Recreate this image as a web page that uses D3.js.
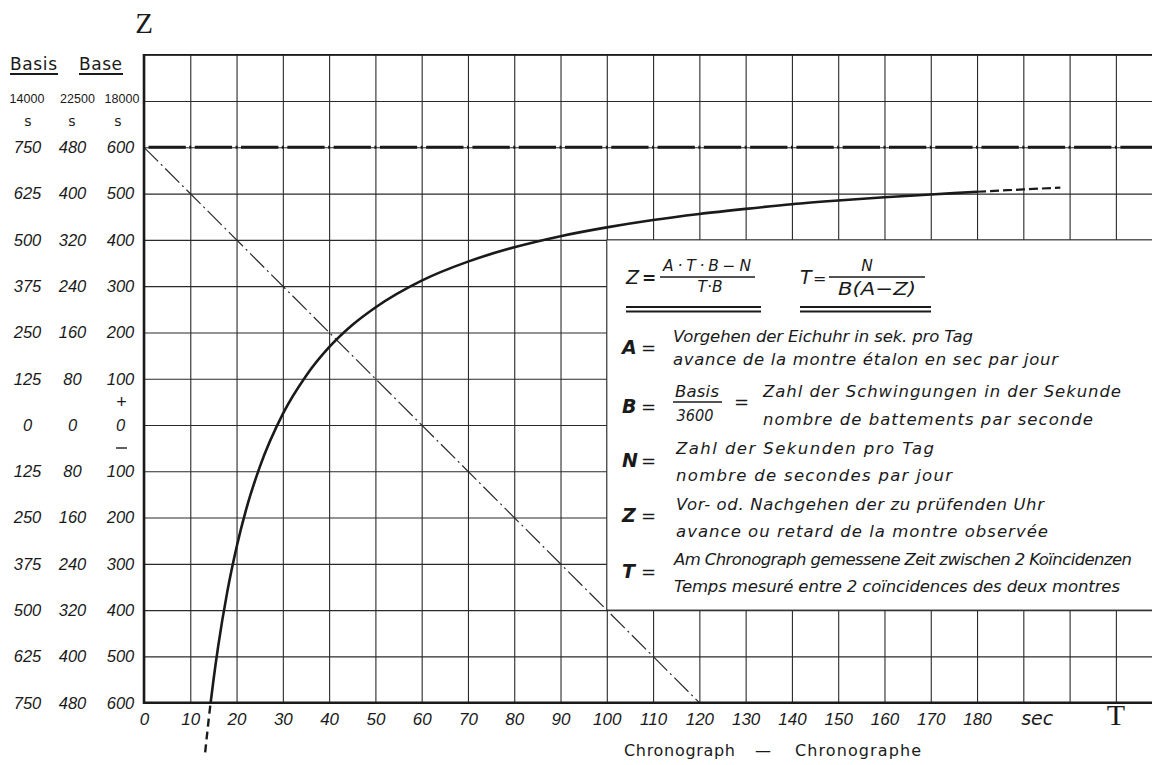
<!DOCTYPE html>
<html>
<head>
<meta charset="utf-8">
<script src="https://cdn.jsdelivr.net/npm/d3@7"></script>
<style>
html, body { margin: 0; padding: 0; background: #fff; }
svg { display: block; }
</style>
</head>
<body>
<svg id="chart" width="1152" height="765"></svg>
<script>
// ---------------- data ----------------
const timeTickValues = [0, 10, 20, 30, 40, 50, 60, 70, 80, 90, 100, 110, 120, 130, 140, 150, 160, 170, 180];
const timeTickLabels = ["0", "10", "20", "30", "40", "50", "60", "70", "80", "90", "100", "110", "120", "130", "140", "150", "160", "170", "180"];
const zTickValues = [600, 500, 400, 300, 200, 100, 0, -100, -200, -300, -400, -500, -600];
const labelsBasis14000 = ["750", "625", "500", "375", "250", "125", "0", "125", "250", "375", "500", "625", "750"];
const labelsBasis22500 = ["480", "400", "320", "240", "160", "80", "0", "80", "160", "240", "320", "400", "480"];
const labelsBase18000 = ["600", "500", "400", "300", "200", "100", "0", "100", "200", "300", "400", "500", "600"];
const basisHeaders = ["14000", "22500", "18000"];

// main curve Z(T)
const curveT = [14.4, 15, 16, 18, 20, 22, 25, 30, 35, 40, 45, 50, 60, 70, 80, 90, 100, 110, 120, 130, 140, 150, 160, 170, 180];
const curveZ = [-600, -552, -480, -360, -264, -185, -91, 24, 106, 168, 216, 254, 312, 353, 384, 408, 427, 443, 456, 467, 477, 485, 492, 498, 504];
// dashed continuation beyond 180 s
const upperExtT = [180, 190, 198];
const upperExtZ = [504, 509, 513];
// dashed continuation below the chart frame
const lowerExtT = [14.4, 14.0, 13.6, 13.2];
const lowerExtZ = [-600, -634, -671, -709];
// thin dash-dot diagonal
const diagonalT = [0, 120];
const diagonalZ = [600, -600];
// thick dash-dot asymptote
const asymptoteZ = 600;

// grid extents
const gridTMax = 210, gridZMin = -600, gridZMax = 800;

// ---------------- layout ----------------
const W = 1152, H = 765;
const svg = d3.select("#chart");
const x = d3.scaleLinear().domain([0, 100]).range([144, 144 + 462.8]);
const y = d3.scaleLinear().domain([-600, 600]).range([702.7, 147.3]);
const xRight = W + 2;

const ink = "#1a1a1a";
const sansIt = "'DejaVu Sans', sans-serif";
const numIt = "'Liberation Sans', Arial, sans-serif";

// ---------- grid via axes ----------
const vGrid = svg.append("g")
  .attr("transform", `translate(0,${y(gridZMin)})`)
  .call(d3.axisBottom(x).tickValues(d3.range(0, gridTMax + 1, 10)).tickSize(-(y(gridZMin) - y(gridZMax))).tickFormat(""));
vGrid.select(".domain").remove();
vGrid.selectAll("line").attr("stroke", "#2a2a2a").attr("stroke-width", 1.1);

const hGrid = svg.append("g")
  .attr("transform", `translate(${x(0)},0)`)
  .call(d3.axisLeft(y).tickValues(d3.range(gridZMin, gridZMax + 1, 100)).tickSize(-(xRight - x(0))).tickFormat(""));
hGrid.select(".domain").remove();
hGrid.selectAll("line").attr("stroke", "#2a2a2a").attr("stroke-width", 1.1);

// top border
svg.append("line").attr("x1", x(0)).attr("x2", xRight).attr("y1", y(gridZMax)).attr("y2", y(gridZMax))
  .attr("stroke", ink).attr("stroke-width", 1.6);

// ---------- formula box ----------
svg.append("rect")
  .attr("x", x(100)).attr("y", y(400))
  .attr("width", xRight - x(100)).attr("height", y(-400) - y(400))
  .attr("fill", "#fff").attr("stroke", "#2a2a2a").attr("stroke-width", 1.1);

// ---------- diagonal ----------
const line = d3.line().x(d => x(d[0])).y(d => y(d[1]));
svg.append("path")
  .datum(diagonalT.map((t, i) => [t, diagonalZ[i]]))
  .attr("d", line)
  .attr("fill", "none").attr("stroke", "#2a2a2a").attr("stroke-width", 1.2)
  .attr("stroke-dasharray", "20,4,2,4");

// ---------- asymptote (thick dash-dot, dots on the grid lines) ----------
const period = x(10) - x(0);
svg.append("line")
  .attr("x1", x(0)).attr("x2", xRight).attr("y1", y(asymptoteZ)).attr("y2", y(asymptoteZ))
  .attr("stroke", ink).attr("stroke-width", 3)
  .attr("stroke-dasharray", `${period - 9},3.5,2,3.5`)
  .attr("stroke-dashoffset", -4.5);

// ---------- curve ----------
const curveLine = d3.line().x(d => x(d[0])).y(d => y(d[1])).curve(d3.curveMonotoneX);
svg.append("path")
  .datum(curveT.map((t, i) => [t, curveZ[i]]))
  .attr("d", curveLine)
  .attr("fill", "none").attr("stroke", ink).attr("stroke-width", 2.6);
svg.append("path")
  .datum(upperExtT.map((t, i) => [t, upperExtZ[i]]))
  .attr("d", curveLine)
  .attr("fill", "none").attr("stroke", ink).attr("stroke-width", 2.2)
  .attr("stroke-dasharray", "9,4");
svg.append("path")
  .datum(lowerExtT.map((t, i) => [t, lowerExtZ[i]]))
  .attr("d", d3.line().x(d => x(d[0])).y(d => y(d[1])).curve(d3.curveMonotoneY))
  .attr("fill", "none").attr("stroke", ink).attr("stroke-width", 2.4)
  .attr("stroke-dasharray", "8,5").attr("stroke-dashoffset", -3);

// ---------- thick axes ----------
svg.append("line").attr("x1", x(0)).attr("x2", x(0)).attr("y1", y(gridZMax) - 0.8).attr("y2", y(gridZMin) + 1)
  .attr("stroke", ink).attr("stroke-width", 2.6);
svg.append("line").attr("x1", x(0) - 1).attr("x2", xRight).attr("y1", y(gridZMin)).attr("y2", y(gridZMin))
  .attr("stroke", ink).attr("stroke-width", 2.6);

// ---------- bottom tick labels ----------
const xAxis = svg.append("g")
  .attr("transform", `translate(0,${y(gridZMin)})`)
  .call(d3.axisBottom(x).tickValues(timeTickValues).tickSize(0).tickPadding(10)
    .tickFormat((d, i) => timeTickLabels[i]));
xAxis.select(".domain").remove();
xAxis.selectAll("text")
  .attr("font-family", numIt).attr("font-style", "italic").attr("font-size", 17)
  .attr("fill", ink);

svg.append("text").attr("x", x(193)).attr("y", 725).attr("text-anchor", "middle")
  .attr("font-family", sansIt).attr("font-style", "italic").attr("font-size", 19).attr("fill", ink).text("sec");
svg.append("text").attr("x", x(210)).attr("y", 725).attr("text-anchor", "middle")
  .attr("font-family", "'Liberation Serif', serif").attr("font-size", 30).attr("fill", ink).text("T");
svg.append("text").attr("x", x(0)).attr("y", 33).attr("text-anchor", "middle")
  .attr("font-family", "'Liberation Serif', serif").attr("font-size", 29).attr("fill", ink).text("Z");

// Chronograph caption
const cap = svg.append("g").attr("font-family", "'DejaVu Sans', sans-serif").attr("font-size", 16).attr("fill", ink);
cap.append("text").attr("x", 624).attr("y", 756).attr("textLength", 111).attr("lengthAdjust", "spacing").text("Chronograph");
cap.append("text").attr("x", 763).attr("y", 756).attr("text-anchor", "middle").text("—");
cap.append("text").attr("x", 795).attr("y", 756).attr("textLength", 126).attr("lengthAdjust", "spacing").text("Chronographe");

// ---------- left label columns ----------
const colX = [27.5, 72.5, 120.5];
const cols = [labelsBasis14000, labelsBasis22500, labelsBase18000];
cols.forEach((labels, c) => {
  svg.append("g").selectAll("text").data(zTickValues).join("text")
    .attr("x", colX[c]).attr("y", d => y(d) + 5.8)
    .attr("text-anchor", "middle")
    .attr("font-family", numIt).attr("font-style", "italic").attr("font-size", 16.5).attr("fill", ink)
    .text((d, i) => labels[i]);
});
svg.append("text").attr("x", 121.5).attr("y", 408).attr("text-anchor", "middle")
  .attr("font-family", numIt).attr("font-size", 18).attr("fill", ink).text("+");
svg.append("line").attr("x1", 116).attr("x2", 127).attr("y1", 448).attr("y2", 448).attr("stroke", ink).attr("stroke-width", 1.4);

const headX = [27, 77.5, 122];
basisHeaders.forEach((h, i) => {
  svg.append("text").attr("x", headX[i]).attr("y", 103).attr("text-anchor", "middle")
    .attr("font-family", numIt).attr("font-size", 12.5).attr("fill", ink).text(h);
  svg.append("text").attr("x", [28, 72, 118][i]).attr("y", 126).attr("text-anchor", "middle")
    .attr("font-family", "'DejaVu Sans', sans-serif").attr("font-size", 14).attr("fill", ink).text("s");
});
const head = svg.append("g").attr("font-family", "'DejaVu Sans', sans-serif").attr("font-size", 17).attr("fill", ink);
head.append("text").attr("x", 10).attr("y", 70).attr("textLength", 47).attr("lengthAdjust", "spacing").text("Basis");
head.append("text").attr("x", 79).attr("y", 70).attr("textLength", 43).attr("lengthAdjust", "spacing").text("Base");
svg.append("line").attr("x1", 10).attr("x2", 58).attr("y1", 74).attr("y2", 74).attr("stroke", ink).attr("stroke-width", 2);
svg.append("line").attr("x1", 79).attr("x2", 123).attr("y1", 74).attr("y2", 74).attr("stroke", ink).attr("stroke-width", 2);

// ---------- formula box contents ----------
const box = svg.append("g").attr("font-family", sansIt).attr("font-style", "italic").attr("fill", ink);
function t(xp, yp, str, size, opts = {}) {
  const el = box.append("text").attr("x", xp).attr("y", yp).attr("font-size", size).text(str);
  if (opts.len) el.attr("textLength", opts.len).attr("lengthAdjust", opts.adj || "spacing");
  if (opts.anchor) el.attr("text-anchor", opts.anchor);
  if (opts.weight) el.attr("font-weight", opts.weight);
  return el;
}
function hl(x1, x2, yy, w) {
  box.append("line").attr("x1", x1).attr("x2", x2).attr("y1", yy).attr("y2", yy).attr("stroke", ink).attr("stroke-width", w);
}
// Z = (A·T·B − N)/(T·B)
t(626, 284, "Z", 19);
t(642, 284, "=", 17, { weight: "bold" });
t(707, 271, "A·T·B−N", 15.5, { anchor: "middle", len: 88 });
hl(660, 755, 277, 1.6);
t(710, 292, "T·B", 15.5, { anchor: "middle" });
hl(626, 761, 307, 1.8);
hl(626, 761, 311.5, 1.8);
// T = N/(B(A−Z))
t(800, 284, "T", 19);
t(813, 284, "=", 16);
t(867, 271, "N", 15.5, { anchor: "middle" });
hl(829, 925, 277, 1.6);
t(877, 295, "B(A−Z)", 18, { anchor: "middle", len: 78, adj: "spacingAndGlyphs" });
hl(800, 931, 307, 1.8);
hl(800, 931, 311.5, 1.8);

// definitions
const defs = [
  { sym: "A", yS: 354, lines: [["Vorgehen der Eichuhr in sek. pro Tag", 673, 342, 300], ["avance de la montre étalon en sec par jour", 673, 365, 385]] },
  { sym: "N", yS: 467, lines: [["Zahl der Sekunden pro Tag", 676, 454, 258], ["nombre de secondes par jour", 676, 481, 276]] },
  { sym: "Z", yS: 522, lines: [["Vor- od. Nachgehen der zu prüfenden Uhr", 676, 510, 368], ["avance ou retard de la montre observée", 676, 537, 372]] },
  { sym: "T", yS: 578, lines: [["Am Chronograph gemessene Zeit zwischen 2 Koïncidenzen", 674, 565, 458], ["Temps mesuré entre 2 coïncidences des deux montres", 674, 592, 446]] }
];
defs.forEach(d => {
  t(622, d.yS, d.sym, 19, { weight: "bold" });
  t(641, d.yS, "=", 18);
  d.lines.forEach(l => t(l[1], l[2], l[0], 16.5, { len: l[3] }));
});
// B = Basis/3600 = ...
t(622, 413, "B", 19, { weight: "bold" });
t(641, 413, "=", 18);
t(697, 397, "Basis", 16.5, { anchor: "middle", len: 44 });
hl(673, 722, 402, 1.5);
t(695, 421, "3600", 16, { anchor: "middle", len: 37, adj: "spacingAndGlyphs" });
t(734, 408, "=", 18);
t(763, 397, "Zahl der Schwingungen in der Sekunde", 16.5, { len: 358 });
t(763, 425, "nombre de battements par seconde", 16.5, { len: 330 });
</script>
</body>
</html>
